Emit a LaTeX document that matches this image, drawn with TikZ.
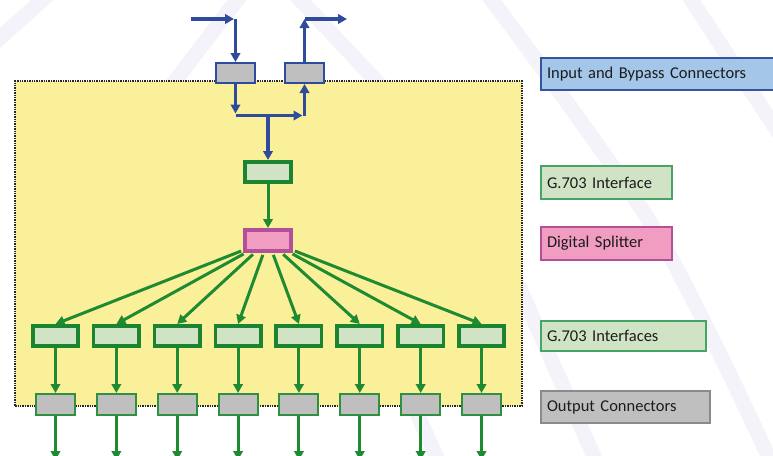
\documentclass[tikz,border=0pt]{standalone}
\usepackage{fontspec}
\setmainfont{Carlito}
\usetikzlibrary{arrows.meta,calc}
\definecolor{wm}{HTML}{F3F3F9}
\definecolor{panelfill}{HTML}{FBF09A}
\definecolor{paneldraw}{HTML}{262626}
\definecolor{bline}{HTML}{2F4C9C}
\definecolor{cgray}{HTML}{BFBFBF}
\definecolor{gfill}{HTML}{D0E4C5}
\definecolor{gdraw}{HTML}{1B8431}
\definecolor{garr}{HTML}{1E8A32}
\definecolor{pfill}{HTML}{F19CC1}
\definecolor{pdraw}{HTML}{B4509A}
\definecolor{ocdraw}{HTML}{2E9040}
\definecolor{lbfill}{HTML}{A3C6E9}
\definecolor{lbdraw}{HTML}{3553A3}
\definecolor{lgdraw}{HTML}{45A466}
\definecolor{lgraydraw}{HTML}{8A8A8A}
\definecolor{txt}{HTML}{1C1C1C}
\begin{document}
\begin{tikzpicture}[x=1pt,y=-1pt,
  barrow/.style={draw=bline, line width=3.4pt, -{Triangle[length=9pt,width=9.5pt]}},
  garrow/.style={draw=garr, line width=3pt, -{Triangle[length=9pt,width=9.5pt]}},
  conn/.style={draw=bline, fill=cgray, line width=2pt, minimum width=39pt, minimum height=20pt, inner sep=0pt},
  gif/.style={draw=gdraw, fill=gfill, line width=3.6pt, minimum width=45.4pt, minimum height=20.4pt, inner sep=0pt},
  splt/.style={draw=pdraw, fill=pfill, line width=3.6pt, minimum width=46.4pt, minimum height=21.4pt, inner sep=0pt},
  oc/.style={draw=ocdraw, fill=cgray, line width=2pt, minimum width=39pt, minimum height=21pt, inner sep=0pt},
  lg/.style={line width=2pt, inner xsep=6pt, inner ysep=0pt, anchor=north west, text=txt,
    font=\fontsize{16.5}{18}\selectfont, align=left},
]
\useasboundingbox (0,0) rectangle (773,455);
\fill[white] (0,0) rectangle (773,455);
% watermark bands
\begin{scope}[line width=15pt, draw=wm]
\draw (48,-5) -- (-8,45);
\draw (172,85) -- (243,-8);
\draw (293,-8) -- (380,85);
\draw plot[smooth] coordinates {(488,-5) (655,230) (770,460)};
\draw (688,-5) -- (790,150);
\draw (505,255) -- (600,470);
\draw (400,375) -- (440,465);
\end{scope}
% panel
\node[draw=paneldraw, fill=panelfill, line width=2.4pt, dash pattern=on 1.4pt off 1pt,
  minimum width=506.6pt, minimum height=324.6pt, inner sep=0pt, anchor=north west] (panel) at (14,80) {};
% top connectors
\node[conn] (c1) at (235.5,73) {};
\node[conn] (c2) at (304.5,73) {};
\coordinate (inA) at (191,19);
\coordinate (inC) at (235.5,19);
\coordinate (outC) at (304.5,19);
\coordinate (outA) at (347,19);
\coordinate (j1) at (235.5,115.5);
\coordinate (j2) at (304.5,115.5);
\coordinate (j3) at (268,115.5);
% G.703 and splitter
\node[gif, minimum width=46.4pt] (g0) at (268,172) {};
\node[splt] (split) at (268,240.5) {};
% row
\foreach \k in {1,...,8}{
  \pgfmathsetmacro{\xx}{55.5+60.86*(\k-1)}
  \node[gif] (g\k) at (\xx,336) {};
  \node[oc] (o\k) at (\xx,404.5) {};
  \coordinate (e\k) at (\xx,460);
}
% blue connectors
\draw[barrow, shorten >=1.5pt] (inA) -- (inC);
\draw[barrow] (inC) -- (c1.north);
\draw[barrow] (c2.north) -- (outC);
\draw[barrow] (outC) -- (outA);
\draw[barrow, shorten >=2pt] (c1.south) -- (j1);
\draw[barrow, shorten >=2pt] (j1) -- (j2);
\draw[barrow] (j2) -- (c2.south);
\draw[barrow] (j3) -- (g0.north);
% green connectors
\draw[garrow] (g0) -- (split);
\foreach \k in {1,...,8}{
  \draw[garrow, shorten <=2pt] (split) -- (g\k.north);
  \draw[garrow] (g\k) -- (o\k);
  \draw[garrow] (o\k) -- (e\k);
}
% legend
\node[lg, draw=lbdraw, fill=lbfill, minimum width=258pt, minimum height=32pt, text width=246pt] (L1) at (540,57) {Input and Bypass Connectors};
\node[lg, draw=lgdraw, fill=gfill, minimum width=131pt, minimum height=33pt, text width=119pt] (L2) at (540,165) {G.703 Interface};
\node[lg, draw=pdraw, fill=pfill, minimum width=131pt, minimum height=33pt, text width=119pt] (L3) at (540,226) {Digital Splitter};
\node[lg, draw=lgdraw, fill=gfill, minimum width=165pt, minimum height=30pt, text width=153pt] (L4) at (540,320) {G.703 Interfaces};
\node[lg, draw=lgraydraw, fill=cgray, minimum width=169pt, minimum height=32pt, text width=157pt] (L5) at (540,390) {Output Connectors};
\end{tikzpicture}
\end{document}
